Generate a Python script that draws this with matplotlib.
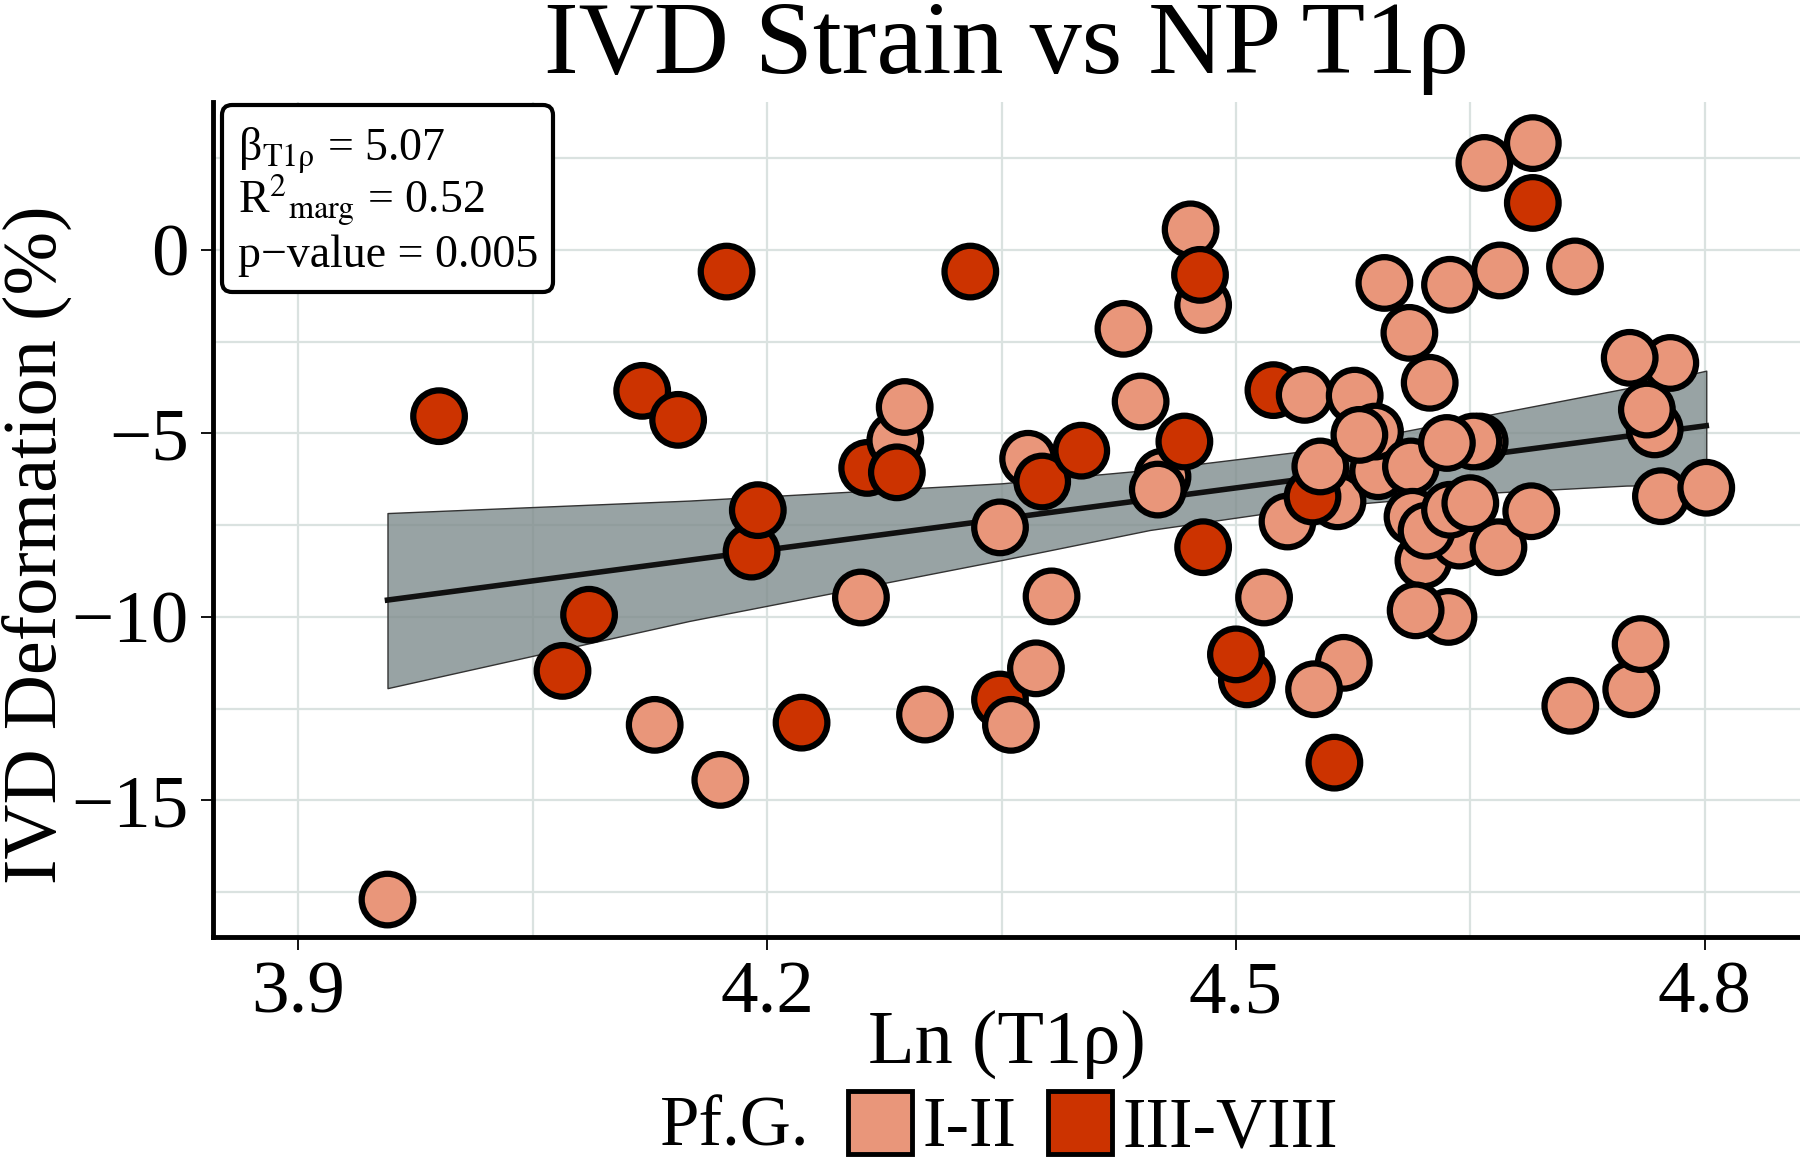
import matplotlib
matplotlib.use('Agg')
import matplotlib.pyplot as plt
from matplotlib.patches import Patch, FancyBboxPatch
from matplotlib.colors import to_rgba

plt.rcParams['font.family'] = ['Liberation Serif', 'DejaVu Serif']
plt.rcParams['mathtext.fontset'] = 'stix'

# data (draw order kept so overlaps look alike)
ln_t1rho = [3.957, 3.990, 4.069, 4.086, 4.120, 4.128, 4.143, 4.170, 4.174, 4.190,
            4.194, 4.222, 4.260, 4.264, 4.282, 4.288, 4.283, 4.301, 4.330, 4.349,
            4.349, 4.356, 4.372, 4.367, 4.376, 4.382, 4.401, 4.428, 4.439, 4.453,
            4.467, 4.450, 4.479, 4.471, 4.477, 4.479, 4.507, 4.500, 4.518, 4.524,
            4.533, 4.544, 4.565, 4.549, 4.554, 4.569, 4.550, 4.563, 4.576, 4.591,
            4.589, 4.579, 4.595, 4.611, 4.624, 4.612, 4.620, 4.643, 4.613, 4.622,
            4.636, 4.615, 4.637, 4.656, 4.652, 4.635, 4.668, 4.637, 4.650, 4.659,
            4.669, 4.689, 4.690, 4.690, 4.714, 4.717, 4.778, 4.752, 4.768, 4.763,
            4.753, 4.759, 4.772, 4.801]
deformation = [-17.70, -4.53, -11.47, -9.94, -3.84, -12.94, -4.63, -14.44, -0.59, -8.22,
               -7.09, -12.88, -9.47, -5.94, -5.19, -4.28, -6.06, -12.66, -0.59, -7.56,
               -12.25, -12.94, -11.40, -5.69, -6.31, -9.44, -5.47, -2.15, -4.13, -6.18,
               -5.22, -6.53, -1.50, 0.56, -0.68, -8.10, -11.70, -11.02, -9.47, -3.82,
               -7.40, -3.95, -6.85, -6.72, -5.90, -11.25, -11.97, -13.97, -3.97, -6.03,
               -4.95, -5.04, -0.90, -2.26, -3.62, -5.90, -8.46, -7.92, -7.27, -7.65,
               -10.00, -9.82, -0.95, -5.22, -5.22, -5.26, -8.10, -7.08, -6.90, 2.37,
               -0.56, -7.12, 1.28, 2.91, -12.42, -0.45, -3.08, -2.94, -4.89, -4.35,
               -11.97, -10.74, -6.71, -6.48]
grade = ['I-II', 'III-VIII', 'III-VIII', 'III-VIII', 'III-VIII', 'I-II', 'III-VIII', 'I-II', 'III-VIII', 'III-VIII',
         'III-VIII', 'III-VIII', 'I-II', 'III-VIII', 'I-II', 'I-II', 'III-VIII', 'I-II', 'III-VIII', 'I-II',
         'III-VIII', 'I-II', 'I-II', 'I-II', 'III-VIII', 'I-II', 'III-VIII', 'I-II', 'I-II', 'I-II',
         'III-VIII', 'I-II', 'I-II', 'I-II', 'III-VIII', 'III-VIII', 'III-VIII', 'III-VIII', 'I-II', 'III-VIII',
         'I-II', 'I-II', 'I-II', 'III-VIII', 'I-II', 'I-II', 'I-II', 'III-VIII', 'I-II', 'I-II',
         'I-II', 'I-II', 'I-II', 'I-II', 'I-II', 'I-II', 'I-II', 'I-II', 'I-II', 'I-II',
         'I-II', 'I-II', 'I-II', 'I-II', 'I-II', 'I-II', 'I-II', 'I-II', 'I-II', 'I-II',
         'I-II', 'I-II', 'III-VIII', 'I-II', 'I-II', 'I-II', 'I-II', 'I-II', 'I-II', 'I-II',
         'I-II', 'I-II', 'I-II', 'I-II']

grade_colors = {'I-II': 'darksalmon', 'III-VIII': '#CC3300'}

# fitted line and confidence band
fit_x = [3.957, 4.801]
fit_y = [-9.54, -4.79]
band_x = [3.957, 4.15, 4.35, 4.445, 4.54, 4.656, 4.75, 4.801]
band_lo = [-11.94, -10.11, -8.45, -7.63, -7.05, -6.63, -6.42, -6.40]
band_hi = [-7.17, -6.83, -6.36, -5.99, -5.50, -4.54, -3.77, -3.29]

beta = 5.07
r2_marg = 0.52
pval = 0.005

W, H = 1800, 1162
fig = plt.figure(figsize=(18, 11.62), dpi=100)
ax = fig.add_axes([212.5 / W, 1 - 937 / H, 1 - 212.5 / W, (937 - 102) / H])

ax.fill_between(band_x, band_lo, band_hi, facecolor=to_rgba('#7f8c8d', 0.8),
                edgecolor='#333333', linewidth=1, zorder=2)
ax.plot(fit_x, fit_y, color='#111111', lw=4, zorder=2.5)
ax.scatter(ln_t1rho, deformation, c=[grade_colors[g] for g in grade], s=1380,
           edgecolors='black', linewidths=4.5, zorder=3)

ax.set_xlim(3.845, 4.861)
ax.set_ylim(-18.72, 4.03)
ax.set_xticks([3.9, 4.2, 4.5, 4.8])
ax.set_xticklabels(['3.9', '4.2', '4.5', '4.8'])
ax.set_yticks([-15, -10, -5, 0])
ax.set_xticks([4.05, 4.35, 4.65], minor=True)
ax.set_yticks([-17.5, -12.5, -7.5, -2.5, 2.5], minor=True)
ax.tick_params(which='major', length=9, width=1.3, labelsize=54, pad=8, colors='black')
ax.tick_params(which='minor', length=0)
ax.grid(which='both', color='#dae2e0', lw=1.6)
ax.set_axisbelow(True)
for s in ['top', 'right']:
    ax.spines[s].set_visible(False)
for s in ['left', 'bottom']:
    ax.spines[s].set_linewidth(3.5)

fig.text(0.5594, 1 - 73 / H, 'IVD Strain vs NP T1ρ', ha='center', va='baseline', fontsize=75)
fig.text(0.5594, 1 - 1063 / H, 'Ln (T1ρ)', ha='center', va='baseline', fontsize=55)
fig.text(0.0208, 0.531, 'IVD Deformation (%)', rotation=90, ha='center', va='center', fontsize=55)

# stats box
box = FancyBboxPatch((222 / W, 1 - 292 / H), (553 - 222) / W, (292 - 105) / H,
                     boxstyle='round,pad=0,rounding_size=0.0056', mutation_aspect=W / H,
                     transform=fig.transFigure, fc='white', ec='black', lw=3, zorder=5)
fig.add_artist(box)
fig.text(238 / W, 1 - 160 / H, r'β$_{\mathrm{T1\rho}}$ = %.2f' % beta, fontsize=33, va='baseline', zorder=6)
fig.text(238 / W, 1 - 213 / H, r'R$^{2}{}_{\mathrm{marg}}$ = %.2f' % r2_marg, fontsize=33, va='baseline', zorder=6)
fig.text(238 / W, 1 - 267 / H, 'p\u2212value = %.3f' % pval, fontsize=33, va='baseline', zorder=6)

# legend
fig.text(660 / W, 1 - 1128 / H, 'Pf.G.', ha='left', va='center', fontsize=51)
handles = [Patch(facecolor=grade_colors[k], edgecolor='black', lw=3.5, label=k) for k in grade_colors]
fig.legend(handles=handles, loc='center left', bbox_to_anchor=(848 / W, 1 - 1126 / H), ncol=2,
           frameon=False, prop={'size': 51}, handlelength=0.9, handleheight=1.0,
           handletextpad=0.15, columnspacing=0.45, borderpad=0, borderaxespad=0)

fig.savefig('out.png', dpi=100)
